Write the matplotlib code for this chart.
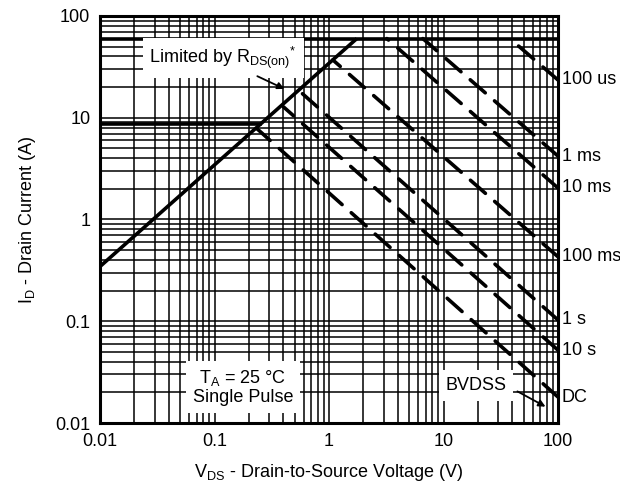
import matplotlib
matplotlib.use("Agg")
from matplotlib import pyplot as plt

plt.rcParams['font.family'] = ['Liberation Sans', 'DejaVu Sans']
plt.rcParams['mathtext.default'] = 'regular'

# Safe operating area data
rds_v = [0.01, 1.75]
rds_i = [0.345, 60]

top_v = [0.01, 100]
top_i = [60, 60]

dc_v = [0.01, 0.25]
dc_i = [8.6, 8.6]

pulse_labels = ['100 us', '1 ms', '10 ms', '100 ms', '1 s', '10 s', 'DC']
start_v = [38, 6.6, 3.2, 1.08, 0.54, 0.40, 0.235]
start_i = [60, 60, 60, 37, 18.7, 12.8, 7.8]
end_v = [100, 100, 100, 100, 100, 100, 100]
end_i = [23.5, 4.2, 2.04, 0.43, 0.103, 0.052, 0.018]

fs = 13

fig = plt.figure(figsize=(6.2, 4.83), dpi=100)
ax = fig.add_axes([0.1613, 0.1242, 0.7387, 0.8427])
ax.set_xscale('log')
ax.set_yscale('log')
ax.set_xlim(0.01, 100)
ax.set_ylim(0.01, 100)

ax.grid(True, which='both', color='black', linewidth=1.1)
ax.set_axisbelow(True)

ax.plot(rds_v, rds_i, color='black', linewidth=2.6, solid_capstyle='butt')
ax.plot(top_v, top_i, color='black', linewidth=2.6)
ax.plot(dc_v, dc_i, color='black', linewidth=2.6)

# dashed pulse lines, drawn from the right edge so each ends on a dash
for i in range(len(pulse_labels)):
    ax.plot([end_v[i], start_v[i]], [end_i[i], start_i[i]], color='black',
            linewidth=2.6, dashes=(5.5, 3.4), dash_capstyle='round')
    ax.text(108, end_i[i], pulse_labels[i], fontsize=fs, va='center',
            ha='left', clip_on=False)

box = dict(facecolor='white', edgecolor='none', pad=5)

ax.text(0.269, 0.897, r'Limited by R$_{DS(on)}$$^{*}$', transform=ax.transAxes,
        fontsize=fs, ha='center', va='center', bbox=box)
ax.annotate('', xy=(0.408, 0.818), xytext=(0.338, 0.855),
            xycoords='axes fraction', textcoords='axes fraction',
            arrowprops=dict(arrowstyle='-|>', color='black', lw=1.3))

ax.text(0.312, 0.088, 'T$_A$ = 25 °C\nSingle Pulse', transform=ax.transAxes,
        fontsize=fs, ha='center', va='center', linespacing=1.05, bbox=box)

ax.text(0.821, 0.092, 'BVDSS', transform=ax.transAxes, fontsize=fs,
        ha='center', va='center', bbox=box)
ax.annotate('', xy=(0.978, 0.037), xytext=(0.906, 0.081),
            xycoords='axes fraction', textcoords='axes fraction',
            arrowprops=dict(arrowstyle='-|>', color='black', lw=1.3))

ax.set_xticks([0.01, 0.1, 1, 10, 100])
ax.set_xticklabels(['0.01', '0.1', '1', '10', '100'])
ax.set_yticks([0.01, 0.1, 1, 10, 100])
ax.set_yticklabels(['0.01', '0.1', '1', '10', '100'])
ax.tick_params(which='both', length=0, labelsize=fs, pad=7)

for s in ax.spines.values():
    s.set_linewidth(2.2)

ax.set_xlabel('V$_{DS}$ - Drain-to-Source Voltage (V)', fontsize=fs, labelpad=9)
ax.set_ylabel('I$_D$ - Drain Current (A)', fontsize=fs, labelpad=12)

fig.savefig('out.png', dpi=100)
